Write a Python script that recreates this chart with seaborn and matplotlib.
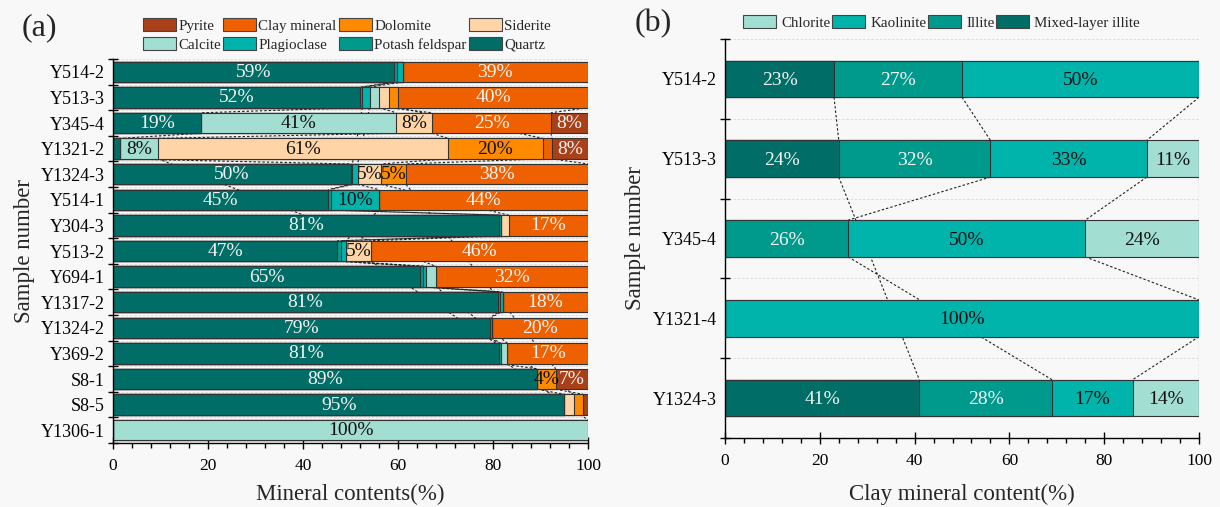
import numpy as np
import pandas as pd
import matplotlib
matplotlib.use("Agg")
import matplotlib.pyplot as plt
import matplotlib.patches as mpatches
from matplotlib.ticker import MultipleLocator, FixedLocator
import seaborn as sns

nan = np.nan

# ---------------- Panel (a) data ----------------
samples_a = ["Y514-2", "Y513-3", "Y345-4", "Y1321-2", "Y1324-3", "Y514-1", "Y304-3",
             "Y513-2", "Y694-1", "Y1317-2", "Y1324-2", "Y369-2", "S8-1", "S8-5", "Y1306-1"]
quartz   = [59.2, 52.0, 18.6, 1.5, 50.0, 45.3, 81.3, 47.2, 64.6, 81.0, 79.4, 81.2, 89.3, 95.0, nan]
potash   = [0.5, 0.5, nan, nan, 0.4, 0.5, 0.4, 0.7, 0.6, 0.5, 0.3, 0.4, nan, nan, nan]
plagio   = [1.3, 1.5, nan, nan, 1.1, 10.2, nan, 1.1, 0.6, 0.5, nan, nan, nan, nan, nan]
calcite  = [nan, 2.0, 41.0, 8.0, nan, nan, nan, nan, 2.2, nan, nan, 1.4, nan, nan, 100.0]
siderite = [nan, 2.0, 7.6, 61.0, 5.0, nan, 1.6, 5.3, nan, nan, nan, nan, nan, 2.0, nan]
dolomite = [nan, 2.0, nan, 20.0, 5.2, nan, nan, nan, nan, nan, nan, nan, 3.9, 2.0, nan]
clay     = [39.0, 40.0, 25.0, 1.9, 38.3, 44.0, 16.7, 45.7, 32.0, 18.0, 20.3, 17.0, nan, nan, nan]
pyrite   = [nan, nan, 7.8, 7.6, nan, nan, nan, nan, nan, nan, nan, nan, 6.8, 1.0, nan]

names_a = ["Quartz", "Potash feldspar", "Plagioclase", "Calcite", "Siderite", "Dolomite",
           "Clay mineral", "Pyrite"]
colors_a = ["#006d67", "#009a8c", "#00b4ab", "#a3ded3", "#ffd4a6", "#ff8a00", "#ef6100", "#a8401a"]
light_text_a = [True, True, False, False, False, False, True, True]

# ---------------- Panel (b) data ----------------
samples_b = ["Y514-2", "Y513-3", "Y345-4", "Y1321-4", "Y1324-3"]
mixed_illite = [23, 24, nan, nan, 41]
illite       = [27, 32, 26, nan, 28]
kaolinite    = [50, 33, 50, 100, 17]
chlorite     = [nan, 11, 24, nan, 14]

names_b = ["Mixed-layer illite", "Illite", "Kaolinite", "Chlorite"]
colors_b = ["#006d67", "#009a8c", "#00b4ab", "#a3ded3"]
light_text_b = [True, True, False, False]

# ---------------- style ----------------
sns.set_style("ticks")
BG = "#f8f8f8"
plt.rcParams["font.family"] = ["Liberation Serif", "DejaVu Serif"]
plt.rcParams["axes.facecolor"] = BG
plt.rcParams["figure.facecolor"] = BG
plt.rcParams["axes.edgecolor"] = "black"
plt.rcParams["xtick.color"] = "black"
plt.rcParams["ytick.color"] = "black"

fig = plt.figure(figsize=(12.2, 5.07), dpi=100)
W, H = 1220, 507


def px_axes(l, t, r, b):
    return fig.add_axes([l / W, 1 - b / H, (r - l) / W, (b - t) / H])


def draw_stacked(ax, samples, series, colors, light, width, label_min):
    vals = np.array(series, dtype=float)
    filled = np.nan_to_num(vals)
    cum = np.cumsum(filled, axis=0)
    left = cum - filled
    S, N = vals.shape
    # connecting dashed lines between consecutive present segments
    for s in range(S):
        idx = [k for k in range(N) if not np.isnan(vals[s, k])]
        for k1, k2 in zip(idx[:-1], idx[1:]):
            ax.plot([cum[s, k1], cum[s, k2]], [k1 + width / 2, k2 - width / 2],
                    ls=(0, (2.2, 1.8)), color="#222222", lw=0.8, zorder=0.8)
    # stacked bars (cumulative, drawn from the end backwards)
    for s in reversed(range(S)):
        df = pd.DataFrame({"sample": samples, "cum": cum[s]})
        sns.barplot(data=df, x="cum", y="sample", orient="h", color=colors[s],
                    saturation=1, width=width, edgecolor="#333333", linewidth=0.8,
                    errorbar=None, ax=ax)
    # value labels
    for s in range(S):
        for k in range(N):
            v = vals[s, k]
            if not np.isnan(v) and v >= label_min:
                ax.text(left[s, k] + v / 2, k + 0.02, f"{round(v)}%", ha="center", va="center",
                        fontsize=14, color="#f4f4f4" if light[s] else "#111111", zorder=5)
    ax.set_xlim(0, 100)
    ax.set_ylim(N - 0.5, -0.5)
    ax.yaxis.set_major_locator(FixedLocator(range(N)))
    ax.set_yticklabels(samples, fontsize=13)
    ax.yaxis.set_minor_locator(FixedLocator(np.arange(N + 1) - 0.5))
    ax.tick_params(axis="y", which="major", length=0, pad=6)
    ax.tick_params(axis="y", which="minor", direction="inout", length=7, width=1)
    ax.xaxis.set_major_locator(MultipleLocator(20))
    ax.xaxis.set_minor_locator(MultipleLocator(4))
    ax.tick_params(axis="x", which="major", direction="inout", length=8, width=1, labelsize=12.5, pad=7)
    ax.tick_params(axis="x", which="minor", direction="out", length=3.5, width=1)
    ax.grid(axis="y", which="minor", color="#d9d9d9", ls=(0, (3, 2)), lw=0.6)
    ax.grid(axis="x", visible=False)
    ax.set_axisbelow(True)
    sns.despine(ax=ax)
    for sp in ("left", "bottom"):
        ax.spines[sp].set_linewidth(1.0)
        ax.spines[sp].set_color("black")
    ax.set_ylabel("Sample number", fontsize=16.5)
    ax.set_facecolor(BG)


# ---------------- Panel (a) ----------------
ax1 = px_axes(113, 59, 588, 443)
draw_stacked(ax1, samples_a, [quartz, potash, plagio, calcite, siderite, dolomite, clay, pyrite],
             colors_a, light_text_a, 0.8, 3.5)
ax1.set_xlabel("Mineral contents(%)", fontsize=16.5, labelpad=7)
ax1.yaxis.set_label_coords(-0.164, 0.5)

order_a = ["Pyrite", "Calcite", "Clay mineral", "Plagioclase", "Dolomite", "Potash feldspar",
           "Siderite", "Quartz"]
handles_a = [mpatches.Patch(facecolor=colors_a[names_a.index(n)], edgecolor="#444444",
                            linewidth=0.8, label=n) for n in order_a]
fig.legend(handles=handles_a, loc="upper left", bbox_to_anchor=(143 / W, 1 - 18 / H), ncol=4,
           frameon=False, fontsize=10.8, handlelength=2.2, handleheight=0.95,
           handletextpad=0.15, columnspacing=0.15, labelspacing=0.3, borderpad=0,
           borderaxespad=0)

# ---------------- Panel (b) ----------------
ax2 = px_axes(725, 39, 1199, 438)
draw_stacked(ax2, samples_b, [mixed_illite, illite, kaolinite, chlorite],
             colors_b, light_text_b, 0.46, 3.5)
ax2.set_xlabel("Clay mineral content(%)", fontsize=16.5, labelpad=10.5)
ax2.yaxis.set_label_coords(-0.167, 0.5)

order_b = ["Chlorite", "Kaolinite", "Illite", "Mixed-layer illite"]
handles_b = [mpatches.Patch(facecolor=colors_b[names_b.index(n)], edgecolor="#444444",
                            linewidth=0.8, label=n) for n in order_b]
fig.legend(handles=handles_b, loc="upper left", bbox_to_anchor=(743 / W, 1 - 15 / H), ncol=4,
           frameon=False, fontsize=10.8, handlelength=2.2, handleheight=0.95,
           handletextpad=0.35, columnspacing=0.1, borderpad=0, borderaxespad=0)

fig.text(22 / W, 1 - 28 / H, "(a)", fontsize=23, ha="left", va="center")
fig.text(635 / W, 1 - 24 / H, "(b)", fontsize=23, ha="left", va="center")

fig.savefig("out.png", dpi=100, facecolor=BG)
